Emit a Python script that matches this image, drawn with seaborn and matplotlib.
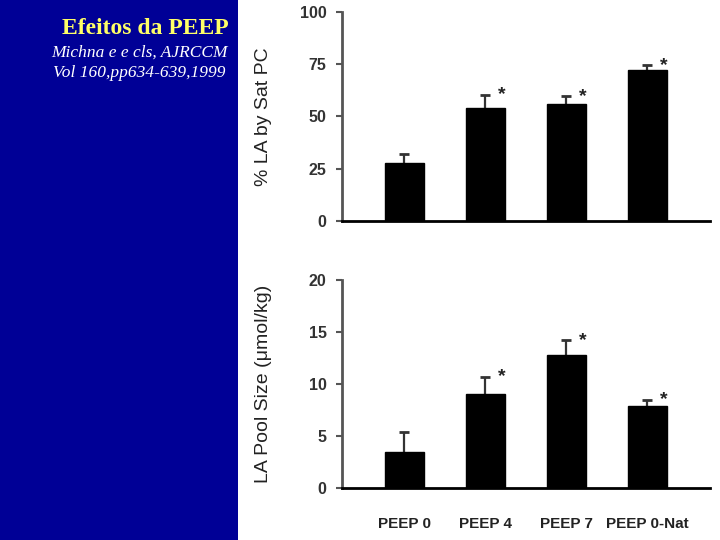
import matplotlib
matplotlib.use("Agg")
import matplotlib.pyplot as plt
import seaborn as sns
import pandas as pd
from matplotlib.patches import Rectangle

# ---- data ----
categories = ["PEEP 0", "PEEP 4", "PEEP 7", "PEEP 0-Nat"]
la_by_satpc = [27.5, 54.2, 55.8, 72.0]
la_by_satpc_err = [4.5, 6.0, 3.8, 2.5]
la_pool = [3.5, 9.1, 12.8, 7.9]
la_pool_err = [1.9, 1.6, 1.4, 0.6]
significant = [False, True, True, True]
top_ticks = [0, 25, 50, 75, 100]
bottom_ticks = [0, 5, 10, 15, 20]

sns.set_theme(style="white")
plt.rcParams["font.family"] = ["Liberation Sans", "DejaVu Sans"]

fig = plt.figure(figsize=(7.2, 5.4), dpi=100)
fig.patch.set_facecolor("white")

# left blue panel
fig.add_artist(Rectangle((0, 0), 238 / 720, 1, transform=fig.transFigure,
                         facecolor="#000096", edgecolor="none", zorder=0))
serif = ["Liberation Serif", "DejaVu Serif"]
fig.text(145 / 720, 1 - 29 / 540, "Efeitos da PEEP", ha="center", va="center",
         color="#FFFF66", family=serif, weight="bold", size=17)
fig.text(139 / 720, 1 - 53 / 540, "Michna e e cls, AJRCCM", ha="center", va="center",
         color="white", family=serif, style="italic", size=12.5)
fig.text(139.5 / 720, 1 - 73 / 540, "Vol 160,pp634-639,1999", ha="center", va="center",
         color="white", family=serif, style="italic", size=12.5)

ax_left = 342 / 720
ax_w = (710 - 342) / 720
ax1 = fig.add_axes([ax_left, 1 - 220.7 / 540, ax_w, 208.7 / 540])
ax2 = fig.add_axes([ax_left, 1 - 488.3 / 540, ax_w, 208.3 / 540])


def draw(ax, vals, errs, ticks, ylabel, show_x):
    df = pd.DataFrame({"cat": categories, "val": vals})
    sns.barplot(data=df, x="cat", y="val", color="black", width=0.48,
                errorbar=None, ax=ax, saturation=1, zorder=2)
    for p in ax.patches:
        p.set_edgecolor("black")
    xs = list(range(len(categories)))
    eb = ax.errorbar(xs, vals, yerr=[[0] * len(vals), errs], fmt="none",
                     ecolor="#333333", elinewidth=1.6, capsize=3.5, capthick=2, zorder=1)
    caps = eb[1]
    if len(caps) == 2:
        caps[0].set_visible(False)
    for i, (v, e, s) in enumerate(zip(vals, errs, significant)):
        if s:
            ax.text(i + 0.2, v + e, "*", ha="center", va="center",
                    size=14, weight="bold", color="#222222")
    ax.set_xlim(-0.77, 3.775)
    ax.set_ylim(ticks[0], ticks[-1])
    ax.set_yticks(ticks)
    ax.set_yticklabels([str(t) for t in ticks], weight="bold", size=11.5, color="#333333")
    ax.tick_params(axis="y", direction="out", length=4, width=1.5, color="#555555",
                   left=True, pad=7)
    ax.tick_params(axis="x", length=0, pad=21)
    if show_x:
        ax.set_xticklabels(categories, weight="bold", size=11, color="#222222")
    else:
        ax.set_xticklabels([])
    ax.set_xlabel("")
    ax.set_ylabel(ylabel, size=14, color="#222222")
    ax.yaxis.set_label_coords(-0.19, 0.5)
    for side in ["top", "right"]:
        ax.spines[side].set_visible(False)
    ax.spines["left"].set_color("#555555")
    ax.spines["left"].set_linewidth(2)
    ax.spines["bottom"].set_color("black")
    ax.spines["bottom"].set_linewidth(2)
    ax.set_facecolor("white")
    ax.grid(False)


draw(ax1, la_by_satpc, la_by_satpc_err, top_ticks, "% LA by Sat PC", False)
draw(ax2, la_pool, la_pool_err, bottom_ticks, "LA Pool Size (\u03bcmol/kg)", True)

fig.savefig("out.png", dpi=100)
